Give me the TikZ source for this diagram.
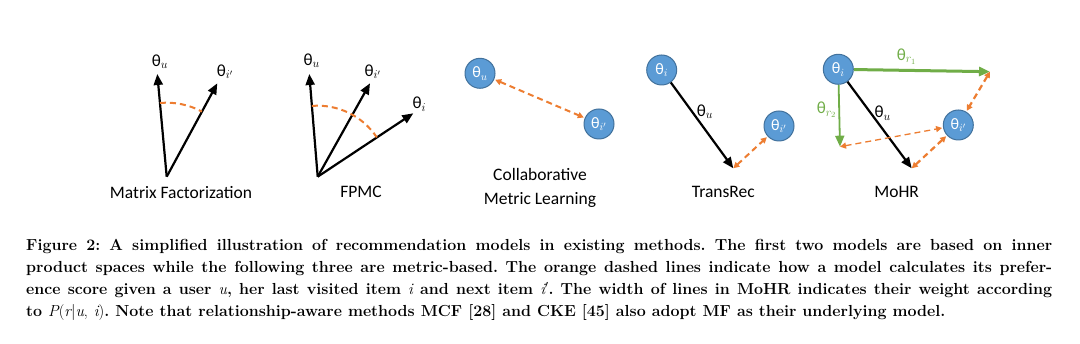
\documentclass[tikz,border=0pt]{standalone}
\usepackage{fontspec}
\usetikzlibrary{arrows.meta,calc}
\newfontfamily\lblfont{Carlito}
\definecolor{cblue}{HTML}{5B9BD5}
\definecolor{cbluedark}{HTML}{41719C}
\definecolor{corange}{HTML}{ED7D31}
\definecolor{cgreen}{HTML}{70AD47}
\newcommand{\capit}[1]{{\mdseries\itshape #1}}
\tikzset{
  vec/.style={line width=2.2pt, -{Triangle[length=11pt,width=9pt]}},
  gvec/.style={cgreen, -{Triangle[length=11pt,width=9pt]}},
  odash/.style={corange, dash pattern=on 6pt off 4pt, {Triangle[length=6pt,width=6pt]}-{Triangle[length=6pt,width=6pt]}},
  arcdash/.style={corange, line width=2pt, dash pattern=on 6pt off 4pt},
  emb/.style={circle, fill=cblue, draw=cbluedark, line width=1pt, minimum size=30pt, inner sep=0pt, text=white, font=\lblfont\fontsize{16}{16}\selectfont},
  lbl/.style={font=\lblfont\fontsize{17}{17}\selectfont, inner sep=0pt},
  modelname/.style={font=\lblfont\fontsize{17.5}{24}\selectfont, inner sep=0pt, align=center},
}
\begin{document}
\begin{tikzpicture}[x=1pt,y=1pt]
\useasboundingbox (0,0) rectangle (1080,344);
\fill[white] (0,0) rectangle (1080,344);

% ---------- Matrix Factorization
\coordinate (mfO) at (166.7,167.3);
\coordinate (mfU) at (157.3,270);
\coordinate (mfI) at (217.3,260.7);
\draw[vec] (mfO) -- (mfU);
\draw[vec] (mfO) -- (mfI);
\draw[arcdash] ($(mfO)+(95.2:74pt)$) arc[start angle=95.2, end angle=61.6, radius=74pt];
\node[lbl] (mfUl) at (160,282.3) {θ$_u$};
\node[lbl] (mfIl) at (225,272.3) {θ$_{i'}$};
\node[modelname] (mft) at (181,151.7) {Matrix Factorization};

% ---------- FPMC
\coordinate (fpO) at (317.7,167.3);
\coordinate (fpU) at (309.3,270);
\coordinate (fpJ) at (370,260.7);
\coordinate (fpI) at (413.3,230.7);
\draw[vec] (fpO) -- (fpU);
\draw[vec] (fpO) -- (fpJ);
\draw[vec] (fpO) -- (fpI);
\draw[arcdash] ($(fpO)+(94.7:71pt)$) arc[start angle=94.7, end angle=33.6, radius=71pt];
\node[lbl] (fpUl) at (311.7,283.3) {θ$_u$};
\node[lbl] (fpJl) at (372.7,272.3) {θ$_{i'}$};
\node[lbl] (fpIl) at (419.3,240) {θ$_i$};
\node[modelname] (fpt) at (361,151.7) {FPMC};

% ---------- Collaborative Metric Learning
\node[emb] (cmlU) at (480,270.7) {θ$_u$};
\node[emb] (cmlI) at (599,220) {θ$_{i'}$};
\draw[odash, line width=2pt, shorten <=1pt, shorten >=1pt] (cmlU) -- (cmlI);
\node[modelname] (cmlt) at (540,156) {Collaborative\\Metric Learning};

% ---------- TransRec
\node[emb] (trI) at (661.7,274) {θ$_i$};
\coordinate (trT) at (733.3,175.7);
\node[emb] (trJ) at (779,218) {θ$_{i'}$};
\draw[vec] (trI) -- (trT);
\node[lbl] (trUl) at (705,232.3) {θ$_u$};
\draw[odash, line width=2pt, shorten >=1pt] (trT) -- (trJ);
\node[modelname] (trt) at (723.3,152.3) {TransRec};

% ---------- MoHR
\node[emb] (moI) at (838.3,274.7) {θ$_i$};
\coordinate (moR1) at (990,272.3);
\coordinate (moR2) at (840,197.3);
\coordinate (moU) at (911.7,175.7);
\node[emb] (moJ) at (958.3,219) {θ$_{i'}$};
\draw[gvec, line width=3pt] (moI) -- (moR1);
\draw[gvec, line width=1.8pt] (moI) -- (moR2);
\draw[vec] (moI) -- (moU);
\node[lbl, text=cgreen] (moR1l) at (906.7,287.3) {θ$_{r_1}$};
\node[lbl, text=cgreen] (moR2l) at (826.7,234) {θ$_{r_2}$};
\node[lbl] (moUl) at (882.7,230.7) {θ$_u$};
\draw[odash, line width=2.2pt, shorten >=1pt] (moR1) -- (moJ);
\draw[odash, line width=1.3pt, shorten >=1pt] (moR2) -- (moJ);
\draw[odash, line width=2.2pt, shorten >=1pt] (moU) -- (moJ);
\node[modelname] (mot) at (896.7,152.3) {MoHR};

% ---------- Caption
\node[anchor=base west, inner sep=0pt] (cap) at (26,93) {\parbox[t]{1026pt}{\fontsize{16}{21.8}\selectfont\bfseries\frenchspacing
\hbox to\hsize{Figure 2: A simplified illustration of recommendation models in existing methods. The first two models are based on inner}
\hbox to\hsize{product spaces while the following three are metric-based. The orange dashed lines indicate how a model calculates its prefer-}
\hbox to\hsize{ence score given a user \capit{u}, her last visited item \capit{i} and next item \capit{i}$'$. The width of lines in MoHR indicates their weight according}
\hbox{to {\mdseries\itshape P}{\mdseries(}\capit{r}{\mdseries|}\capit{u}{\mdseries,} \capit{i}{\mdseries)}. Note that relationship-aware methods MCF [28] and CKE [45] also adopt MF as their underlying model.}}};
\end{tikzpicture}
\end{document}
